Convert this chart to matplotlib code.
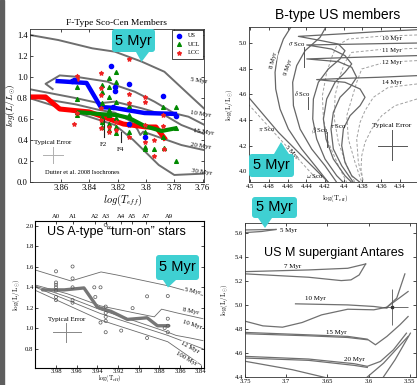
import matplotlib
matplotlib.use('Agg')
import matplotlib.pyplot as plt
from matplotlib.patches import FancyBboxPatch, Polygon, Rectangle
from matplotlib.transforms import IdentityTransform

plt.rcParams['mathtext.fontset'] = 'cm'
plt.rcParams['axes.unicode_minus'] = False

# ---------------- Panel 1 data (F-type Sco-Cen) ----------------
p1_iso_5_x = [3.882, 3.862, 3.838, 3.822, 3.803, 3.787, 3.768, 3.754]
p1_iso_5_y = [1.40, 1.352, 1.273, 1.241, 1.146, 1.050, 0.812, 0.638]
p1_iso_10_x = [3.866, 3.871, 3.861, 3.850, 3.827, 3.822, 3.808, 3.794, 3.780, 3.770, 3.754]
p1_iso_10_y = [0.885, 0.935, 1.015, 1.003, 0.955, 0.924, 0.860, 0.765, 0.654, 0.622, 0.511]
p1_iso_15_x = [3.882, 3.850, 3.833, 3.822, 3.803, 3.787, 3.775, 3.754]
p1_iso_15_y = [0.883, 0.800, 0.750, 0.765, 0.702, 0.638, 0.543, 0.432]
p1_iso_20_x = [3.882, 3.850, 3.833, 3.822, 3.810, 3.806, 3.804, 3.802, 3.775, 3.754]
p1_iso_20_y = [0.813, 0.740, 0.686, 0.660, 0.574, 0.500, 0.448, 0.479, 0.352, 0.289]
p1_iso_30_x = [3.882, 3.844, 3.822, 3.809, 3.803, 3.791, 3.780, 3.754]
p1_iso_30_y = [0.797, 0.638, 0.543, 0.400, 0.321, 0.162, 0.067, 0.083]
p1_iso_names = ['5 Myr', '10 Myr', '15 Myr', '20 Myr', '30 Myr']
p1_iso_lab_x = [3.769, 3.769, 3.767, 3.769, 3.768]
p1_iso_lab_y = [0.962, 0.645, 0.473, 0.346, 0.098]

us_line_x = [3.864, 3.842, 3.832, 3.822, 3.801, 3.778]
us_line_y = [0.962, 0.943, 0.714, 0.705, 0.657, 0.648]
ucl_line_x = [3.848, 3.831, 3.821, 3.812, 3.801, 3.789, 3.778]
ucl_line_y = [0.665, 0.645, 0.638, 0.610, 0.533, 0.486, 0.514]
lcc_line_x = [3.882, 3.871, 3.861, 3.840, 3.828, 3.816, 3.800, 3.793, 3.786]
lcc_line_y = [0.810, 0.810, 0.695, 0.667, 0.610, 0.552, 0.524, 0.524, 0.400]

us_x = [3.852, 3.825, 3.812, 3.822, 3.788, 3.823, 3.812, 3.801, 3.779, 3.822, 3.851]
us_y = [0.965, 1.105, 0.933, 0.870, 0.819, 0.717, 0.552, 0.432, 0.628, 0.900, 0.975]
ucl_x = [3.849, 3.849, 3.849, 3.849, 3.831, 3.831, 3.831, 3.831, 3.831, 3.831,
         3.826, 3.826, 3.826, 3.826, 3.826, 3.826, 3.826, 3.821, 3.821, 3.821, 3.821,
         3.821, 3.821, 3.812, 3.812, 3.812, 3.801, 3.801, 3.801, 3.794, 3.788, 3.788,
         3.787, 3.779, 3.779, 3.779]
ucl_y = [0.901, 0.794, 0.670, 0.638, 0.924, 0.860, 0.749, 0.622, 0.575, 0.527,
         0.987, 0.901, 0.813, 0.686, 0.638, 0.552, 0.495, 1.051, 0.955, 0.765, 0.606,
         0.527, 0.463, 0.724, 0.638, 0.479, 0.479, 0.336, 0.311, 0.311, 0.717, 0.432,
         0.320, 0.717, 0.511, 0.200]
lcc_x = [3.849, 3.849, 3.849, 3.851, 3.832, 3.832, 3.832, 3.832, 3.832, 3.832,
         3.826, 3.826, 3.821, 3.821, 3.812, 3.812, 3.812, 3.812, 3.812, 3.801, 3.801,
         3.801, 3.801, 3.794, 3.794, 3.788, 3.788, 3.787]
lcc_y = [1.010, 0.978, 0.654, 0.552, 1.035, 0.892, 0.829, 0.702, 0.590, 0.511,
         0.527, 0.479, 0.575, 0.495, 1.168, 0.838, 0.755, 0.543, 0.432, 0.813, 0.765,
         0.543, 0.384, 0.400, 0.248, 0.638, 0.533, 0.311]
p1_xticks = [3.86, 3.84, 3.82, 3.80, 3.78, 3.76]
p1_xticklabels = ['3.86', '3.84', '3.82', '3.8', '3.78', '3.76']
p1_yticks = [0.0, 0.2, 0.4, 0.6, 0.8, 1.0, 1.2, 1.4]
p1_yticklabels = ['0.0', '0.2', '0.4', '0.6', '0.8', '1.0', '1.2', '1.4']

# ---------------- Panel 2 data (B-type US) ----------------
p2_solid = [
    ([4.4555, 4.4644, 4.4708, 4.4733, 4.4726, 4.4680, 4.4591, 4.4449, 4.4306, 4.4164],
     [5.135, 5.031, 4.902, 4.772, 4.642, 4.486, 4.330, 4.174, 4.044, 3.914]),
    ([4.4182, 4.4253, 4.4413, 4.4502, 4.4545, 4.4537, 4.4466, 4.4342, 4.4200, 4.4075],
     [5.135, 5.044, 4.940, 4.824, 4.694, 4.512, 4.330, 4.174, 4.044, 3.914]),
    ([4.3218, 4.3631, 4.3987, 4.4484, 4.4235, 4.4057, 4.3987, 4.4040, 4.4164, 4.4271,
      4.4324, 4.4331, 4.4289, 4.4200, 4.4075, 4.4004],
     [5.104, 5.089, 5.073, 5.052, 5.018, 4.992, 4.940, 4.876, 4.798, 4.694,
      4.564, 4.408, 4.252, 4.096, 3.966, 3.914]),
    ([4.3218, 4.3631, 4.3987, 4.4395, 4.4128, 4.3987, 4.3915, 4.3987, 4.4093, 4.4182,
      4.4217, 4.4189, 4.4111, 4.3987, 4.3915],
     [5.000, 4.995, 4.990, 4.985, 4.953, 4.902, 4.837, 4.772, 4.694, 4.564,
      4.408, 4.252, 4.096, 3.966, 3.914]),
    ([4.3218, 4.3631, 4.3987, 4.4395, 4.4057, 4.3915, 4.3862, 4.3933, 4.4040, 4.4111,
      4.4136, 4.4111, 4.4022, 4.3897],
     [4.902, 4.894, 4.886, 4.876, 4.855, 4.811, 4.733, 4.655, 4.577, 4.460,
      4.330, 4.174, 4.044, 3.914]),
    ([4.3218, 4.3631, 4.3987, 4.4289, 4.3987, 4.3826, 4.3773, 4.3826, 4.3933, 4.4004,
      4.4022, 4.3987, 4.3915, 4.3826],
     [4.746, 4.733, 4.725, 4.715, 4.694, 4.642, 4.577, 4.512, 4.434, 4.330,
      4.200, 4.070, 3.966, 3.914]),
    ([4.5053, 4.4697, 4.4342, 4.4164], [4.610, 4.304, 4.044, 3.914]),
]
p2_dashed = [
    ([4.3218, 4.3631, 4.3951, 4.4075, 4.4121, 4.4182, 4.4228, 4.4217, 4.4164, 4.4057, 4.3968],
     [5.063, 5.052, 5.031, 4.979, 4.902, 4.772, 4.590, 4.408, 4.226, 4.044, 3.914]),
    ([4.3218, 4.3631, 4.3915, 4.3987, 4.4040, 4.4093, 4.4100, 4.4057, 4.3968, 4.3880],
     [4.959, 4.948, 4.927, 4.850, 4.746, 4.590, 4.408, 4.226, 4.044, 3.914]),
    ([4.3218, 4.3560, 4.3808, 4.3862, 4.3915, 4.3968, 4.3951, 4.3880, 4.3808],
     [4.863, 4.850, 4.798, 4.694, 4.564, 4.434, 4.252, 4.070, 3.914]),
    ([4.3218, 4.3524, 4.3684, 4.3773, 4.3826, 4.3862, 4.3844, 4.3791],
     [4.681, 4.655, 4.577, 4.473, 4.382, 4.252, 4.070, 3.914]),
    ([4.3218, 4.3453, 4.3595, 4.3702, 4.3773, 4.3808, 4.3816, 4.3791],
     [4.564, 4.512, 4.434, 4.330, 4.226, 4.122, 4.018, 3.914]),
    ([4.5053, 4.4697, 4.4289], [4.551, 4.265, 3.940]),
]
p2_iso_names = ['8 Myr', '9 Myr', '5 Myr', '10 Myr', '11 Myr', '12 Myr', '14 Myr']
p2_iso_lab_x = [4.4751, 4.4591, 4.4555, 4.349, 4.349, 4.349, 4.349]
p2_iso_lab_y = [4.863, 4.811, 4.148, 5.036, 4.940, 4.850, 4.694]
p2_iso_lab_rot = [76, 72, -47, 0, 0, 0, 0]
p2_star_names = [r'$\sigma$ Sco', r'$\delta$ Sco', r'$\beta$ Sco', r'$\tau$ Sco', r'$\pi$ Sco', r'$\omega$ Sco']
p2_star_x = [4.4502, 4.4449, 4.4253, 4.4064, 4.4822, 4.4306]
p2_star_y = [4.992, 4.603, 4.317, 4.356, 4.325, 3.966]
p2_bar_x = [4.442, 4.438, 4.418]
p2_bar_lo = [4.811, 4.486, 4.187]
p2_bar_hi = [4.966, 4.577, 4.304]
p2_xticks = [4.5, 4.48, 4.46, 4.44, 4.42, 4.40, 4.38, 4.36, 4.34, 4.32]
p2_xticklabels = ['4.5', '4.48', '4.46', '4.44', '4.42', '4.4', '4.38', '4.36', '4.34', '']
p2_yticks = [4.0, 4.2, 4.4, 4.6, 4.8, 5.0]
p2_yticklabels = ['4.0', '4.2', '4.4', '4.6', '4.8', '5.0']

# ---------------- Panel 3 data (A-type turn-on) ----------------
p3_iso = [
    ([4.001, 3.9655, 3.9365, 3.9205, 3.8722, 3.8384], [1.572, 1.462, 1.550, 1.519, 1.416, 1.322]),
    ([4.001, 3.969, 3.937, 3.904, 3.885, 3.878, 3.863, 3.838], [1.425, 1.337, 1.219, 1.150, 1.112, 1.187, 1.150, 1.094]),
    ([4.001, 3.969, 3.937, 3.904, 3.872, 3.864, 3.850, 3.838], [1.416, 1.306, 1.181, 1.072, 0.962, 0.931, 0.905, 0.880]),
    ([4.001, 3.937, 3.872, 3.838], [1.406, 1.144, 0.931, 0.800]),
    ([4.001, 3.937, 3.872, 3.840], [1.375, 1.081, 0.869, 0.644]),
]
p3_iso_names = ['5 Myr', '8 Myr', '10 Myr', '12 Myr', '100 Myr']
p3_iso_lab_x = [3.848, 3.850, 3.848, 3.851, 3.854]
p3_iso_lab_y = [1.365, 1.163, 1.035, 0.815, 0.700]
p3_iso_lab_rot = [-12, -12, -18, -28, -30]
p3_med_x = [3.993, 3.972, 3.953, 3.940, 3.927, 3.911, 3.892, 3.882, 3.871]
p3_med_y = [1.375, 1.375, 1.394, 1.206, 1.166, 1.087, 1.103, 1.025, 1.025]
p3_star_x = [3.980, 3.980, 3.980, 3.980, 3.980, 3.980, 3.980,
             3.964, 3.964, 3.964, 3.964, 3.964,
             3.943, 3.942, 3.937,
             3.932, 3.932, 3.932, 3.932, 3.932, 3.932,
             3.937, 3.917, 3.906, 3.892, 3.892, 3.872, 3.872, 3.872, 3.872, 3.875]
p3_star_y = [1.556, 1.447, 1.425, 1.400, 1.369, 1.306, 1.275,
             1.603, 1.487, 1.400, 1.275, 1.250,
             1.400, 1.306, 1.400,
             2.009, 1.212, 1.150, 1.112, 1.072, 0.962,
             1.056, 0.978, 1.197, 1.312, 0.906, 1.315, 1.094, 1.025, 0.962, 1.003]
p3_xticks = [3.98, 3.96, 3.94, 3.92, 3.90, 3.88, 3.86, 3.84]
p3_xticklabels = ['3.98', '3.96', '3.94', '3.92', '3.9', '3.88', '3.86', '3.84']
p3_yticks = [0.8, 1.0, 1.2, 1.4, 1.6, 1.8, 2.0]
p3_yticklabels = ['0.8', '1.0', '1.2', '1.4', '1.6', '1.8', '2.0']
p3_spt = ['A0', 'A1', 'A2', 'A3', 'A4', 'A5', 'A7', 'A9']
p3_spt_x = [3.980, 3.964, 3.942, 3.932, 3.917, 3.907, 3.893, 3.871]

# ---------------- Panel 4 data (M supergiant Antares) ----------------
p4_iso = [
    ([3.75, 3.7124], [5.628, 5.632]),
    ([3.75, 3.730, 3.7124], [5.606, 5.615, 5.632]),
    ([3.7488, 3.6728, 3.6253, 3.6036], [5.280, 5.294, 5.308, 5.344]),
    ([3.7488, 3.6728, 3.6332, 3.6214, 3.6115, 3.6036], [5.261, 5.233, 5.205, 5.211, 5.252, 5.344]),
    ([3.6887, 3.6253, 3.5937, 3.5778], [5.011, 5.002, 4.989, 4.975]),
    ([3.7488, 3.7283, 3.7045, 3.6807, 3.6570, 3.6253, 3.5937, 3.5778, 3.5659, 3.5560],
     [4.864, 4.827, 4.816, 4.855, 4.919, 4.966, 4.961, 4.983, 5.058, 5.261]),
    ([3.5778, 3.5521], [4.983, 5.114]),
    ([3.7488, 3.6728, 3.6253, 3.6016, 3.5917, 3.5778, 3.5620, 3.5521],
     [4.772, 4.752, 4.739, 4.716, 4.669, 4.739, 4.836, 4.905]),
    ([3.7488, 3.6728, 3.6253, 3.6016], [4.761, 4.744, 4.730, 4.711]),
    ([3.7488, 3.6728, 3.6174, 3.6016, 3.5857, 3.5699, 3.5541],
     [4.572, 4.550, 4.511, 4.489, 4.530, 4.627, 4.766]),
    ([3.7488, 3.6728, 3.6174, 3.6016], [4.558, 4.539, 4.497, 4.480]),
    ([3.7488, 3.6926, 3.6412], [4.530, 4.461, 4.377]),
    ([3.6055, 3.5818, 3.5521], [4.377, 4.516, 4.739]),
    ([3.5857, 3.5679, 3.5493], [4.363, 4.544, 4.766]),
]
p4_iso_names = ['5 Myr', '7 Myr', '10 Myr', '15 Myr', '20 Myr']
p4_iso_lab_x = [3.6966, 3.6926, 3.6649, 3.6392, 3.6174]
p4_iso_lab_y = [5.622, 5.322, 5.052, 4.775, 4.550]
antares_x = 3.5719
antares_y = 4.983
antares_xerr = [[0.0199], [0.0101]]
antares_yerr = [[0.147], [0.150]]
p4_xticks = [3.75, 3.70, 3.65, 3.60, 3.55]
p4_xticklabels = ['3.75', '3.7', '3.65', '3.6', '3.55']
p4_yticks = [4.4, 4.6, 4.8, 5.0, 5.2, 5.4, 5.6]
p4_yticklabels = ['4.4', '4.6', '4.8', '5.0', '5.2', '5.4', '5.6']

callout_text = '5 Myr'

# ---------------- Figure ----------------
W, H = 417, 385
fig = plt.figure(figsize=(W / 100, H / 100), dpi=100)
fig.patch.set_facecolor('white')
SERIF = 'Liberation Serif'
SANS = 'Liberation Sans'


def ax_px(l, t, r, b):
    return fig.add_axes([l / W, 1 - b / H, (r - l) / W, (b - t) / H])


def style(ax, xt, xtl, yt, ytl, size, pad=1.5):
    ax.set_xticks(xt)
    ax.set_xticklabels(xtl, fontfamily=SERIF, fontsize=size)
    ax.set_yticks(yt)
    ax.set_yticklabels(ytl, fontfamily=SERIF, fontsize=size)
    ax.tick_params(direction='in', length=2.5, width=0.5, pad=pad, top=True, right=True)
    for s in ax.spines.values():
        s.set_linewidth(0.6)
        s.set_color('#333333')


# Panel 1
ax1 = ax_px(30, 29, 204, 182)
for xs, ys in [(p1_iso_5_x, p1_iso_5_y), (p1_iso_10_x, p1_iso_10_y), (p1_iso_15_x, p1_iso_15_y),
               (p1_iso_20_x, p1_iso_20_y), (p1_iso_30_x, p1_iso_30_y)]:
    ax1.plot(xs, ys, color='#6e6e6e', lw=1.4, zorder=1)
for n, x, y in zip(p1_iso_names, p1_iso_lab_x, p1_iso_lab_y):
    ax1.text(x, y, n, fontsize=5, fontfamily=SERIF, ha='left', va='center', rotation=-8)
ax1.plot(lcc_line_x, lcc_line_y, color='#ff0000', lw=3.6, zorder=2, solid_capstyle='butt')
ax1.plot(ucl_line_x, ucl_line_y, color='#008a00', lw=3.0, zorder=2, solid_capstyle='butt')
ax1.plot(us_line_x, us_line_y, color='#0000ff', lw=3.2, zorder=2, solid_capstyle='butt')
ax1.scatter(ucl_x, ucl_y, marker='^', s=7, color='#008a00', zorder=3, label='UCL')
ax1.scatter(lcc_x, lcc_y, marker='*', s=8, color='#ee2222', zorder=3, label='LCC')
ax1.scatter(us_x, us_y, marker='o', s=9, color='#0000ff', zorder=3, label='US')
h, l = ax1.get_legend_handles_labels()
order = [2, 0, 1]
leg = ax1.legend([h[i] for i in order], [l[i] for i in order], loc='upper right',
                 prop={'family': SERIF, 'size': 4.5}, borderaxespad=0.15, handletextpad=0.8,
                 labelspacing=0.5, fancybox=False, edgecolor='black', framealpha=1,
                 borderpad=0.5, handlelength=1.2)
leg.get_frame().set_linewidth(0.5)
ax1.plot([3.8295, 3.8295], [0.431, 0.590], color='#222222', lw=0.8)
ax1.plot([3.8179, 3.8179], [0.384, 0.479], color='#222222', lw=0.8)
ax1.text(3.830, 0.381, 'F2', fontsize=5, fontfamily=SERIF, ha='center', va='top')
ax1.text(3.818, 0.333, 'F4', fontsize=5, fontfamily=SERIF, ha='center', va='top')
ax1.text(3.8657, 0.352, 'Typical Error', fontsize=5, fontfamily=SERIF, ha='center', va='bottom')
ax1.plot([3.8728, 3.8587], [0.257, 0.257], color='#b0b0b0', lw=0.7)
ax1.plot([3.8657, 3.8657], [0.181, 0.333], color='#b0b0b0', lw=0.7)
ax1.text(3.8453, 0.086, 'Dutter et al. 2008 Isochrones', fontsize=4.6, fontfamily=SERIF,
         ha='center', va='center')
ax1.set_xlim(3.882, 3.759)
ax1.set_ylim(0, 1.457)
style(ax1, p1_xticks, p1_xticklabels, p1_yticks, p1_yticklabels, 6.2)
ax1.set_title('F-Type Sco-Cen Members', fontfamily=SERIF, fontsize=6.8, pad=3)
fig.text(11.5 / W, 1 - 105 / H, r'$log(L/L_{\odot})$', fontsize=6.8, rotation=90,
         ha='center', va='center')
ax1.set_xlabel(r'$log(T_{eff})$', fontsize=7.5)
ax1.xaxis.set_label_coords(0.535, -0.07)

# Panel 2
ax2 = ax_px(249, 27, 437, 182)
for xs, ys in p2_dashed:
    ax2.plot(xs, ys, color='#a0a0a0', lw=0.7, ls=(0, (3, 2)))
for xs, ys in p2_solid:
    ax2.plot(xs, ys, color='#666666', lw=0.9)
for n, x, y, r in zip(p2_iso_names, p2_iso_lab_x, p2_iso_lab_y, p2_iso_lab_rot):
    ax2.text(x, y, n, fontsize=4.8, fontfamily=SERIF, ha='center', va='center', rotation=r,
             bbox=dict(boxstyle='square,pad=0.05', fc='white', ec='none'))
for n, x, y in zip(p2_star_names, p2_star_x, p2_star_y):
    ax2.text(x, y, n, fontsize=4.8, fontfamily=SERIF, ha='center', va='center')
for x, lo, hi in zip(p2_bar_x, p2_bar_lo, p2_bar_hi):
    ax2.plot([x, x], [lo, hi], color='#555555', lw=0.7)
ax2.text(4.3489, 4.356, 'Typical Error', fontsize=5.2, fontfamily=SERIF, ha='center', va='center')
ax2.plot([4.3635, 4.3325], [4.200, 4.200], color='#555555', lw=0.7)
ax2.plot([4.3489, 4.3489], [4.086, 4.320], color='#555555', lw=0.7)
ax2.set_xlim(4.5011, 4.3005)
ax2.set_ylim(3.917, 5.125)
style(ax2, p2_xticks, p2_xticklabels, p2_yticks, p2_yticklabels, 4.8)
ax2.set_ylabel(r'$\log(\mathrm{L}/\mathrm{L}_{\odot})$', fontsize=5)
ax2.yaxis.set_label_coords(-0.075, 0.5)
ax2.set_xlabel(r'$\log(\mathrm{T}_{\mathrm{eff}})$', fontsize=5)
ax2.xaxis.set_label_coords(0.457, -0.07)
fig.text(338 / W, 1 - 15 / H, 'B-type US members', fontfamily=SANS, fontsize=10,
         ha='center', va='center')

# Panel 3
ax3 = ax_px(35, 221, 204, 368)
for xs, ys in p3_iso:
    ax3.plot(xs, ys, color='#6a6a6a', lw=0.6)
for n, x, y, r in zip(p3_iso_names, p3_iso_lab_x, p3_iso_lab_y, p3_iso_lab_rot):
    ax3.text(x, y, n, fontsize=4.8, fontfamily=SERIF, ha='center', va='center', rotation=r,
             bbox=dict(boxstyle='square,pad=0.05', fc='white', ec='none'))
ax3.plot(p3_med_x, p3_med_y, color='#767676', lw=2.4, solid_capstyle='round')
ax3.scatter(p3_star_x, p3_star_y, s=5, facecolors='none', edgecolors='#555555', linewidths=0.5,
            zorder=3)
ax3.text(3.970, 1.066, 'Typical Error', fontsize=5, fontfamily=SERIF, ha='center', va='bottom')
ax3.plot([3.983, 3.956], [0.962, 0.962], color='#888888', lw=0.7)
ax3.plot([3.970, 3.970], [0.869, 1.056], color='#888888', lw=0.7)
ax3.set_xlim(4.0003, 3.837)
ax3.set_ylim(0.613, 2.047)
style(ax3, p3_xticks, p3_xticklabels, p3_yticks, p3_yticklabels, 4.8, pad=1.0)
ax3.tick_params(top=False)
ax3t = ax3.twiny()
ax3t.set_xlim(ax3.get_xlim())
ax3t.set_xticks(p3_spt_x)
ax3t.set_xticklabels(p3_spt, fontfamily=SERIF, fontsize=4.8)
ax3t.tick_params(direction='in', length=2.5, width=0.5, pad=1.5)
ax3.set_ylabel(r'$\log(\mathrm{L}/\mathrm{L}_{\odot})$', fontsize=5)
ax3.yaxis.set_label_coords(-0.078, 0.5)
fig.text(110 / W, 0.5 / H, r'$\log(\mathrm{T}_{\mathrm{eff}})$', fontsize=4.4,
         ha='center', va='bottom')
fig.text(116 / W, 1 - 232 / H, 'US A-type \u201cturn-on\u201d stars', fontfamily=SANS, fontsize=9,
         ha='center', va='center')

# Panel 4
ax4 = ax_px(245, 223, 416, 377)
for xs, ys in p4_iso:
    ax4.plot(xs, ys, color='#707070', lw=0.9)
for n, x, y in zip(p4_iso_names, p4_iso_lab_x, p4_iso_lab_y):
    ax4.text(x, y, n, fontsize=5, fontfamily=SERIF, ha='center', va='center')
ax4.errorbar([antares_x], [antares_y], xerr=antares_xerr, yerr=antares_yerr, fmt='s', ms=1.8,
             color='#333333', ecolor='#555555', elinewidth=0.6, capsize=0)
ax4.set_xlim(3.75, 3.5425)
ax4.set_ylim(4.4, 5.686)
style(ax4, p4_xticks, p4_xticklabels, p4_yticks, p4_yticklabels, 4.8)
ax4.set_ylabel(r'$\log(\mathrm{L}/\mathrm{L}_{\odot})$', fontsize=5)
ax4.yaxis.set_label_coords(-0.088, 0.5)
fig.text(334 / W, 1 - 253 / H, 'US M supergiant Antares', fontfamily=SANS, fontsize=9,
         ha='center', va='center')

# left dark strip
fig.add_artist(Rectangle((0, 0), 4.0, H, transform=IdentityTransform(), color='#5e5e5e',
                         zorder=5))

# callouts (pixel positions: box l,t,r,b ; pointer base l,r ; tip)
TEAL = '#3fd0d2'


def callout(l, t, r, b, bl, br, tip, at_top):
    tr = IdentityTransform()
    box = FancyBboxPatch((l, H - b), r - l, b - t, boxstyle='round,pad=0,rounding_size=3',
                         transform=tr, fc=TEAL, ec='none', zorder=10)
    fig.add_artist(box)
    yb = H - t if at_top else H - b
    tri = Polygon([(bl, yb), (br, yb), (tip[0], H - tip[1])], closed=True, transform=tr,
                  fc=TEAL, ec='none', zorder=10)
    fig.add_artist(tri)
    fig.text(((l + r) / 2) / W, 1 - ((t + b) / 2) / H, callout_text, fontfamily=SANS,
             fontsize=10.5, ha='center', va='center', zorder=11)


callout(112, 29, 155, 52, 136, 149, (141.5, 62), False)
callout(249, 154, 294, 177, 274, 289, (281, 142), True)
callout(156, 255, 199, 280, 163, 176, (168, 287.5), False)
callout(252, 197, 297, 218, 258, 272, (265, 228), False)

fig.savefig('out.png', dpi=100)
